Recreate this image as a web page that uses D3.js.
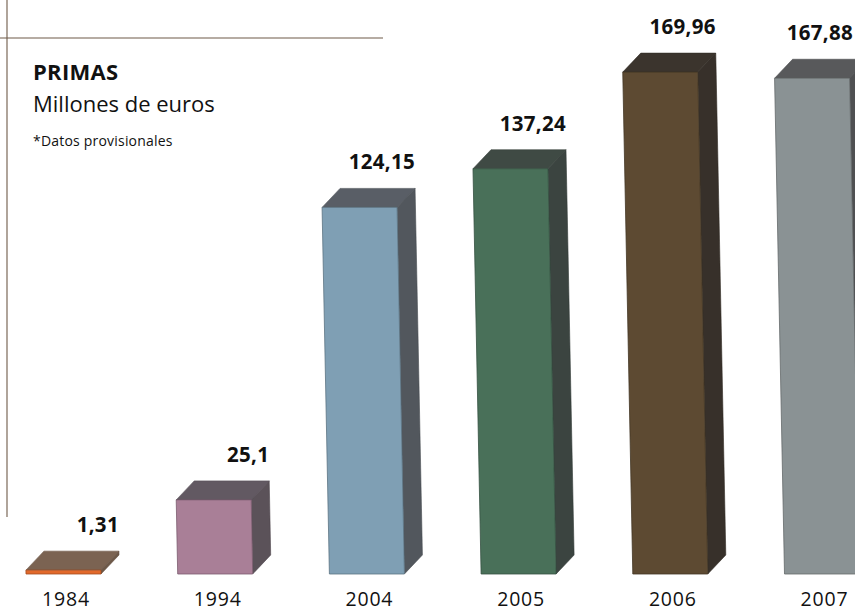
<!DOCTYPE html>
<html>
<head>
<meta charset="utf-8">
<script src="https://cdn.jsdelivr.net/npm/d3@7"></script>
<style>
  html, body { margin: 0; padding: 0; background: #fff; }
  svg { display: block; }
  text { font-family: "Open Sans", "Noto Sans", sans-serif; fill: #111; }
</style>
</head>
<body>
<div id="chart"></div>
<script>
// Primas, millones de euros
const years = ["1984", "1994", "2004", "2005", "2006", "2007"];
const primas = [1.31, 25.1, 124.15, 137.24, 169.96, 167.88];
const valueLabels = ["1,31", "25,1", "124,15", "137,24", "169,96", "167,88"];

// face colours per bar: front, top, side
const frontColors = ["#e2692b", "#a97f97", "#7f9fb4", "#497059", "#5d4a32", "#8a9294"];
const topColors   = ["#7b6352", "#625962", "#595e66", "#3f4a44", "#3b342d", "#58595b"];
const sideColors  = ["#6d5848", "#5b5259", "#52575d", "#3b4440", "#37302a", "#4f5052"];

const W = 855, H = 612;
const baseY = 574;
const barW = 75;
const depthX = 18, depthY = 19;
const lean = 0.02; // slight perspective: the top of each bar sits a little left of its foot

const svg = d3.select("#chart").append("svg")
  .attr("width", W).attr("height", H);

const x = d3.scalePoint().domain(years).range([63.5, 822]);
const y = d3.scaleLinear().domain([0, 170]).range([baseY, 72]);

// frame lines
const frame = svg.append("g").attr("stroke", "#6e5a48").attr("stroke-width", 1.1);
frame.append("line").attr("x1", 7).attr("x2", 7).attr("y1", 0).attr("y2", 517);
frame.append("line").attr("x1", 0).attr("x2", 383).attr("y1", 38).attr("y2", 38);

// heading
svg.append("text").attr("x", 33).attr("y", 80)
  .attr("font-size", 22).attr("font-weight", 700).attr("letter-spacing", 0.3).text("PRIMAS");
svg.append("text").attr("x", 33).attr("y", 112)
  .attr("font-size", 22).text("Millones de euros");
svg.append("text").attr("x", 33).attr("y", 146)
  .attr("font-size", 14).attr("letter-spacing", 0.2).text("*Datos provisionales");

const data = years.map((yr, i) => ({
  year: yr, value: primas[i], label: valueLabels[i],
  front: frontColors[i], top: topColors[i], side: sideColors[i]
}));

function geom(d) {
  const cx = x(d.year);
  const yt = y(d.value);
  const h = baseY - yt;
  const bl = cx - barW / 2;          // bottom-left of front face
  const tl = bl - lean * h;          // top-left of front face
  return { bl, br: bl + barW, tl, tr: tl + barW, yt, yb: baseY };
}

const pts = a => a.map(p => p.join(",")).join(" ");

const bars = svg.append("g").selectAll("g.bar").data(data).join("g").attr("class", "bar");

// right side face
bars.append("polygon")
  .attr("points", d => {
    const g = geom(d);
    return pts([[g.tr, g.yt], [g.tr + depthX, g.yt - depthY], [g.br + depthX, g.yb - depthY], [g.br, g.yb]]);
  })
  .attr("fill", d => d.side)
  .attr("stroke", d => d3.color(d.side).darker(0.4))
  .attr("stroke-width", 0.6);

// top face
bars.append("polygon")
  .attr("points", d => {
    const g = geom(d);
    return pts([[g.tl, g.yt], [g.tl + depthX, g.yt - depthY], [g.tr + depthX, g.yt - depthY], [g.tr, g.yt]]);
  })
  .attr("fill", d => d.top)
  .attr("stroke", d => d3.color(d.top).darker(0.4))
  .attr("stroke-width", 0.6);

// front face
bars.append("polygon")
  .attr("points", d => {
    const g = geom(d);
    return pts([[g.tl, g.yt], [g.tr, g.yt], [g.br, g.yb], [g.bl, g.yb]]);
  })
  .attr("fill", d => d.front)
  .attr("stroke", d => d3.color(d.front).darker(0.9))
  .attr("stroke-width", 0.8);

// value labels, right-aligned to the back corner of each top face
bars.append("text")
  .attr("x", d => Math.min(geom(d).tr + depthX, W - 2))
  .attr("y", d => geom(d).yt - depthY - 19)
  .attr("text-anchor", "end")
  .attr("font-size", 20.5)
  .attr("font-weight", 700)
  .attr("letter-spacing", 0.3)
  .text(d => d.label);

// year labels
svg.append("g").selectAll("text").data(years).join("text")
  .attr("x", d => x(d) + 2.5)
  .attr("y", 606)
  .attr("text-anchor", "middle")
  .attr("font-size", 19.5)
  .attr("letter-spacing", 0.8)
  .text(d => d);
</script>
</body>
</html>
